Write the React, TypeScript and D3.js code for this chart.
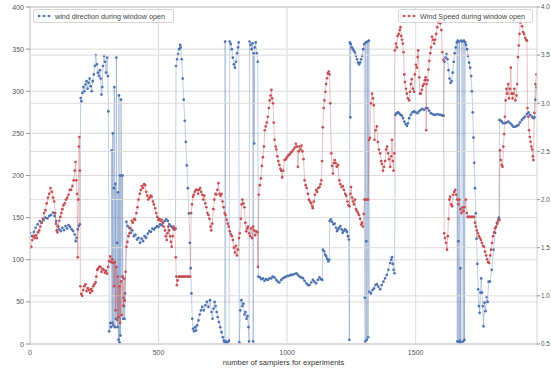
import React from "react";
import * as d3 from "d3";

// ---- data ----
const dirSamples = [
  0, 8, 15, 22, 30, 38, 45, 52, 60, 68, 75, 82, 90, 96, 102, 108, 114, 120, 126, 132, 138, 144, 150, 156, 162, 168, 174, 178, 182, 186, 190, 194,
  197, 200, 204, 208, 212, 216, 220, 224, 228, 232, 236, 240, 244, 248, 252, 256, 260, 264, 268, 272, 275, 278, 281, 284, 288, 292, 296, 300, 303, 305,
  308, 312, 315, 318, 320, 322, 324, 326, 328, 330, 332, 334, 336, 338, 340, 342, 344, 346, 348, 350, 352, 354, 356, 358, 360, 362, 364, 366, 368, 370,
  375, 380, 386, 392, 398, 404, 410, 416, 422, 428, 434, 440, 446, 452, 458, 464, 470, 476, 482, 488, 494, 500, 506, 512, 518, 524, 530, 536, 542, 548, 554, 560, 566,
  568, 572, 576, 580, 584, 586, 590, 594, 598, 602, 606, 610, 614, 618, 622, 625, 628, 631, 634, 638, 642, 646, 650, 655, 660, 665, 670, 676, 682, 688, 694, 700, 706, 710, 714, 718, 722, 726, 730, 735, 740, 745, 750, 754, 757,
  759, 762, 766, 770, 774, 777, 781, 785, 789, 793, 797, 801, 805, 809, 812, 814, 818, 822, 826, 830, 834, 838, 842, 846, 850, 852, 854, 858, 862, 866, 868, 870, 872, 874, 878, 882, 886,
  888, 894, 900, 906, 912, 918, 925, 932, 938, 944, 951, 958, 964, 970, 977, 984, 990, 996, 1002, 1008, 1014, 1020, 1028, 1036, 1042, 1048, 1055, 1062, 1068, 1075, 1081, 1087, 1094, 1100, 1106, 1113, 1120, 1126, 1132, 1137,
  1139, 1144, 1148, 1152, 1156, 1160, 1164, 1166, 1170, 1175, 1180, 1185, 1190, 1194, 1198, 1202, 1207, 1212, 1216, 1220, 1225, 1229, 1233, 1237, 1240,
  1242, 1244, 1246, 1248, 1252, 1256, 1260, 1264, 1268, 1272, 1276, 1280, 1284, 1288, 1292, 1296, 1300, 1302, 1304, 1306, 1308, 1310, 1312, 1315, 1318,
  1320, 1326, 1332, 1338, 1344, 1349, 1355, 1362, 1368, 1375, 1381, 1388, 1394, 1401, 1405, 1408, 1411, 1414, 1418,
  1421, 1426, 1431, 1436, 1441, 1446, 1451, 1456, 1461, 1466, 1470, 1475, 1481, 1487, 1494, 1500, 1507, 1513, 1520, 1526, 1533, 1540, 1546, 1552, 1559, 1566, 1572, 1578, 1585, 1592, 1598, 1604, 1609,
  1612, 1616, 1620, 1624, 1628, 1632, 1636, 1640, 1644, 1648, 1652, 1656, 1660, 1662, 1664, 1666, 1668, 1670, 1672, 1674, 1676, 1678, 1682, 1685, 1688, 1690, 1693, 1696, 1700, 1704, 1708, 1712,
  1716, 1719, 1722, 1725, 1728, 1731, 1734, 1737, 1740, 1743, 1746, 1749, 1752, 1755, 1758, 1761, 1764, 1768, 1772, 1776, 1780, 1784, 1789,
  1796, 1803, 1809, 1816, 1822, 1824,
  1826, 1831, 1835, 1840, 1848, 1854, 1861, 1868, 1874, 1880, 1887, 1894, 1900, 1906, 1913, 1920, 1926, 1933, 1939, 1945, 1952, 1958, 1962, 1966, 1970,
];
const dirValues = [
  132, 128, 133, 138, 142, 146, 144, 147, 150, 149, 152, 153, 156, 152, 146, 140, 136, 134, 138, 135, 140, 137, 141, 139, 136, 134, 130, 122, 126, 136, 140, 142,
  292, 288, 298, 305, 300, 308, 312, 303, 310, 315, 306, 300, 312, 320, 330, 343, 332, 322, 318, 325, 315, 296, 305, 330, 342, 335, 322, 340, 318, 276,
  15, 25, 20, 230, 25, 250, 22, 185, 305, 20, 190, 30, 340, 120, 20, 180, 5, 295, 2, 200, 10, 290, 200, 80, 200, 30, 55, 45, 30, 60,
  145, 140, 138, 132, 135, 128, 130, 124, 126, 120, 125, 122, 128, 126, 131, 134, 133, 137, 136, 138, 140, 139, 142, 141, 144, 146, 148, 146, 142, 140, 138, 136, 137,
  330, 338, 344, 350, 355, 352, 338, 315, 290, 265, 240, 212, 185, 155, 120, 90, 60, 30, 18, 15, 20, 16, 22, 28, 35, 40, 44, 40, 46, 50, 44, 52, 38, 30, 42, 50, 45, 38, 32, 26, 20, 14, 8, 4, 2,
  359, 3, 1, 2, 4, 359, 356, 350, 340, 332, 328, 335, 345, 352, 358, 2, 40, 52, 45, 48, 35, 38, 30, 33, 20, 3, 359, 355, 350, 357, 3, 345, 238, 352, 358, 345, 335,
  80, 79, 77, 78, 75, 77, 76, 78, 78, 80, 79, 76, 74, 73, 76, 78, 79, 80, 81, 81, 82, 82, 83, 84, 82, 80, 79, 78, 75, 72, 70, 70, 73, 76, 74, 72, 76, 79, 77, 76,
  112, 110, 106, 104, 101, 98, 100, 146, 148, 145, 142, 143, 138, 134, 136, 138, 140, 136, 132, 134, 136, 135, 133, 128, 124,
  5, 358, 269, 356, 352, 350, 348, 346, 342, 338, 334, 332, 334, 338, 342, 350, 356, 55, 3, 358, 122, 5, 359, 8, 360,
  62, 60, 64, 66, 70, 71, 68, 65, 70, 74, 78, 82, 88, 96, 100, 103, 95, 88, 84,
  272, 274, 275, 274, 272, 271, 268, 264, 261, 259, 262, 268, 272, 275, 276, 275, 274, 276, 278, 279, 278, 280, 280, 277, 274, 273, 272, 272, 273, 272, 272, 271, 271,
  335, 340, 344, 338, 325, 315, 310, 312, 322, 335, 345, 352, 358, 3, 360, 122, 2, 359, 4, 90, 2, 360, 359, 3, 360, 5, 358, 355, 350, 342, 334, 328,
  318, 300, 275, 245, 215, 185, 155, 125, 95, 65, 45, 37, 61, 78, 61, 45, 21, 49, 39, 56, 50, 74, 74,
  88, 112, 132, 144, 148, 150,
  266, 265, 264, 262, 262, 263, 264, 262, 260, 258, 258, 259, 260, 263, 266, 268, 270, 273, 275, 272, 270, 268, 269, 290, 305,
];

const speedSamples = [
  0, 5, 9, 13, 18, 22, 27, 31, 36, 40, 45, 50, 55, 60, 65, 70, 75, 80, 85, 90, 94, 98, 101, 104, 107, 110, 114, 118, 122, 126, 130, 135, 140, 145, 150, 155, 160, 165, 170, 174, 177, 180, 183, 186, 188, 190, 192, 194,
  196, 199, 203, 207, 211, 216, 220, 225, 229, 234, 238, 242, 246, 250, 255, 258, 261, 265, 269, 274, 278, 282, 287, 291, 295, 300, 304, 308, 312, 316, 320, 324,
  327, 330, 333, 336, 339, 342, 345, 348, 351, 354, 357, 360, 363, 366, 369, 372,
  375, 379, 383, 387, 391, 396, 400, 405, 409, 414, 418, 422, 427, 431, 435, 440, 444, 448, 452, 456, 460, 465, 469, 473, 478, 482, 487, 491, 495, 499, 503, 507, 512, 516, 520, 525, 528, 532, 535, 538, 541, 545, 548, 551, 555, 558, 561, 564,
  567, 569, 571, 574, 578, 583, 588, 593, 598, 603, 608, 613, 618, 623,
  627, 630, 634, 637, 641, 645, 650, 654, 658, 662, 666, 670, 674, 678, 682, 686, 690, 694, 698, 702, 705, 709, 713, 717, 721, 725, 729, 733, 737, 741, 745, 749, 753, 757, 761, 765, 769, 773, 777, 781, 785, 789, 793, 797, 801, 805, 809, 813, 816, 820, 823, 826, 830, 834, 838, 841, 845, 848, 852, 856, 860, 864, 868, 872, 876, 880, 884, 887,
  890, 894, 898, 902, 906, 910, 913, 917, 921, 925, 929, 932, 936, 939, 942, 945, 948, 951, 955, 958, 962, 966, 970, 974, 977, 981, 985, 990, 995, 1000, 1005, 1010, 1015, 1020, 1025, 1030, 1034, 1038, 1042, 1045, 1048, 1052, 1056, 1060, 1064, 1068, 1072, 1076, 1081, 1085, 1089, 1094, 1098, 1100, 1104, 1108, 1113, 1117, 1121, 1126, 1130, 1133, 1136,
  1139, 1142, 1145, 1149, 1152, 1155, 1158, 1162, 1165, 1168, 1172, 1175, 1178, 1182, 1185, 1189, 1193, 1198, 1203, 1207, 1212, 1217, 1221, 1226, 1230, 1235, 1239, 1243, 1246, 1249, 1253, 1256, 1260, 1264, 1268, 1272, 1276, 1280, 1284, 1288, 1292, 1295, 1298, 1301, 1305, 1310, 1315,
  1319, 1322, 1326, 1330, 1334, 1337, 1340, 1344, 1349, 1353, 1357, 1362, 1366, 1369, 1373, 1377, 1381, 1385, 1389, 1393, 1397, 1401, 1405, 1408, 1411, 1414, 1417,
  1419, 1423, 1427, 1430, 1434, 1438, 1441, 1444, 1447, 1450, 1453, 1456, 1458, 1462, 1466, 1470, 1475, 1478, 1481, 1485, 1489, 1494, 1497, 1501, 1505, 1508, 1510, 1514, 1517, 1520, 1524, 1528, 1532, 1536, 1539, 1541, 1543, 1546, 1550, 1553, 1557, 1560, 1564, 1568, 1572, 1576, 1580, 1584, 1588, 1592, 1596, 1600, 1604, 1608,
  1611, 1614, 1618, 1622, 1625, 1628, 1631, 1634, 1638, 1642, 1646, 1650, 1654, 1658, 1662, 1666, 1670, 1674, 1678, 1682, 1686, 1690, 1695, 1699, 1702, 1707, 1712, 1717, 1722, 1727, 1731, 1734, 1738, 1742, 1746, 1750, 1754, 1758, 1762, 1766, 1770, 1774, 1778, 1782, 1786, 1790, 1793, 1797, 1801, 1805, 1809, 1813, 1818, 1822, 1826,
  1828, 1831, 1835, 1838, 1841, 1844, 1847, 1850, 1853, 1856, 1860, 1863, 1867, 1870, 1873, 1877, 1880, 1884, 1888, 1892, 1895, 1898, 1901, 1904, 1907, 1910, 1914, 1918, 1922, 1926, 1930, 1933, 1935, 1938, 1941, 1944, 1947, 1950, 1953, 1956, 1958, 1962, 1966, 1970,
];
const speedValues = [
  1.50, 1.51, 1.58, 1.62, 1.60, 1.63, 1.60, 1.66, 1.68, 1.72, 1.76, 1.80, 1.86, 1.89, 1.96, 2.02, 2.06, 2.12, 2.08, 2.02, 1.98, 1.86, 1.75, 1.68, 1.66, 1.72, 1.78, 1.82, 1.86, 1.90, 1.94, 1.96, 2.00, 2.02, 2.05, 2.10, 2.10, 2.14, 2.20, 2.30, 2.39, 2.20, 2.06, 1.40, 2.00, 2.55, 2.65, 2.30,
  1.10, 1.02, 1.00, 1.06, 1.10, 1.12, 1.05, 1.08, 1.06, 1.03, 1.07, 1.05, 1.10, 1.12, 1.14, 1.20, 1.27, 1.28, 1.30, 1.30, 1.25, 1.28, 1.27, 1.24, 1.26, 1.23, 1.30, 1.36, 1.41, 1.35, 1.38, 1.34,
  1.10, 1.35, 0.85, 1.30, 0.75, 1.20, 0.78, 1.10, 0.72, 1.15, 0.80, 1.20, 0.90, 1.18, 0.95, 1.25,
  1.51, 1.56, 1.62, 1.65, 1.70, 1.78, 1.76, 1.80, 1.79, 1.86, 1.92, 2.00, 2.06, 2.10, 2.14, 2.12, 2.16, 2.15, 2.08, 2.04, 2.00, 2.02, 2.04, 2.03, 1.98, 1.95, 1.91, 1.86, 1.82, 1.79, 1.80, 1.78, 1.79, 1.76, 1.72, 1.68, 1.62, 1.58, 1.65, 1.72, 1.68, 1.62, 1.56, 1.51, 1.62, 1.72, 1.70, 1.69,
  1.40, 1.20, 1.11, 1.16, 1.20, 1.20, 1.20, 1.20, 1.20, 1.20, 1.20, 1.20, 1.20, 1.20,
  1.86, 1.95, 2.03, 2.05, 2.08, 2.10, 2.10, 2.06, 2.10, 2.12, 2.08, 2.05, 2.00, 2.04, 1.96, 1.92, 1.86, 1.84, 1.80, 1.72, 1.68, 1.75, 1.90, 2.00, 2.06, 2.05, 2.10, 2.17, 2.06, 2.04, 2.06, 1.98, 1.92, 1.86, 1.84, 1.79, 1.75, 1.72, 1.67, 1.64, 1.62, 1.58, 1.50, 1.45, 1.52, 1.42, 1.48, 1.60, 1.65, 1.80, 1.95, 2.00, 1.96, 1.92, 1.76, 1.67, 1.70, 1.72, 1.65, 1.62, 1.70, 1.60, 1.72, 1.68, 1.63, 1.67, 1.66, 1.30,
  2.05, 2.15, 2.22, 2.35, 2.44, 2.55, 2.72, 2.76, 2.80, 2.86, 2.95, 3.03, 3.08, 3.14, 3.05, 3.00, 2.80, 2.62, 2.55, 2.52, 2.45, 2.40, 2.36, 2.32, 2.30, 2.23, 2.30, 2.41, 2.42, 2.44, 2.46, 2.47, 2.49, 2.50, 2.52, 2.54, 2.58, 2.55, 2.34, 2.50, 2.55, 2.52, 2.56, 2.50, 2.42, 2.20, 2.15, 2.12, 2.06, 2.00, 1.98, 1.96, 1.93, 1.91, 1.98, 2.05, 2.10, 2.08, 2.12, 2.13, 2.16, 2.20, 2.40,
  2.75, 2.95, 3.03, 3.12, 3.20, 3.26, 3.31, 3.33, 3.30, 3.00, 2.48, 2.35, 2.27, 2.38, 2.41, 2.38, 2.34, 2.36, 2.20, 2.16, 2.13, 2.14, 2.10, 2.06, 2.04, 1.98, 1.94, 1.93, 2.06, 2.13, 2.02, 1.98, 1.95, 2.00, 1.90, 1.88, 1.86, 1.84, 1.80, 1.74, 1.76, 1.72, 1.85, 2.00, 2.00, 2.00, 2.00,
  2.62, 2.64, 3.00, 3.10, 3.05, 2.98, 2.62, 2.72, 2.76, 2.60, 2.52, 2.48, 2.40, 2.37, 2.30, 2.34, 2.40, 2.52, 2.55, 2.48, 2.42, 2.34, 2.45, 2.62, 2.40, 2.30, 2.48,
  3.55, 3.62, 3.58, 3.70, 3.72, 3.76, 3.79, 3.70, 3.66, 3.62, 3.53, 3.30, 3.22, 3.15, 3.10, 3.05, 3.03, 3.12, 3.20, 3.25, 3.15, 3.12, 3.30, 3.40, 3.37, 3.48, 3.55, 3.27, 3.10, 3.10, 3.14, 3.18, 3.20, 3.24, 3.27, 2.72, 3.20, 3.24, 3.35, 3.44, 3.52, 3.58, 3.69, 3.66, 3.62, 3.66, 3.72, 3.79, 3.84, 3.86, 3.83, 3.76, 3.53, 3.45,
  1.65, 1.60, 1.55, 1.48, 1.62, 1.80, 2.00, 2.03, 1.95, 1.93, 2.05, 2.08, 2.10, 2.05, 2.00, 1.95, 2.00, 1.90, 1.86, 1.92, 1.88, 1.92, 2.00, 1.86, 1.82, 1.82, 1.82, 1.82, 1.82, 1.82, 1.76, 1.72, 1.68, 1.65, 1.62, 1.60, 1.58, 1.55, 1.52, 1.51, 1.46, 1.42, 1.38, 1.35, 1.34, 1.42, 1.48, 1.55, 1.62, 1.66, 1.70, 1.72, 1.75, 1.78, 1.79,
  2.51, 2.41, 2.36, 2.34, 2.55, 2.68, 2.86, 3.03, 3.15, 3.10, 3.20, 3.05, 3.15, 3.37, 3.10, 3.05, 3.10, 3.15, 3.03, 3.08, 3.20, 3.48, 3.60, 3.72, 3.84, 3.86, 3.80, 3.74, 3.72, 3.68, 3.66, 3.65, 2.95, 2.86, 2.72, 2.65, 2.60, 2.55, 2.52, 2.45, 2.41, 2.90, 3.20, 3.30,
];

const xTicks = [0, 500, 1000, 1500];
const dirTicks = [0, 50, 100, 150, 200, 250, 300, 350, 400];
const speedTicks = [0.5, 1.0, 1.5, 2.0, 2.5, 3.0, 3.5, 4.0];
const dirLabel = "wind direction during window open";
const speedLabel = "Wind Speed during window open";
const xLabel = "number of samplers for experiments";

const W = 551;
const H = 371;
const left = 30, right = 537, top = 7, bottom = 344;
const BLUE = "#4c72b0";
const RED = "#c44e52";
const GRID = "#dcdcdc";
const FONT = "'Liberation Sans', Arial, sans-serif";

export default function App() {
  const x = d3.scaleLinear().domain([0, 1972]).range([left, right]);
  const yL = d3.scaleLinear().domain([0, 400]).range([bottom, top]);
  const yR = d3.scaleLinear().domain([0.5, 4.0]).range([bottom, top]);

  const dirPts: [number, number][] = dirSamples.map((s, i) => [s, dirValues[i]]);
  const spdPts: [number, number][] = speedSamples.map((s, i) => [s, speedValues[i]]);
  const lineL = d3.line<[number, number]>().x((d) => x(d[0])).y((d) => yL(d[1]));
  const lineR = d3.line<[number, number]>().x((d) => x(d[0])).y((d) => yR(d[1]));

  return (
    <svg width={W} height={H} style={{ position: "absolute", left: 0, top: 0, background: "#fff" }} fontFamily={FONT}>
      <defs>
        <clipPath id="plot">
          <rect x={left} y={top - 2} width={right - left} height={bottom - top + 4} />
        </clipPath>
      </defs>
      {/* left-axis grid */}
      {dirTicks.map((t) => (
        <line key={"gl" + t} x1={left} x2={right} y1={yL(t)} y2={yL(t)} stroke={GRID} strokeWidth={1} />
      ))}
      {xTicks.map((t) => (
        <line key={"gx" + t} x1={x(t)} x2={x(t)} y1={top} y2={bottom} stroke={GRID} strokeWidth={1} />
      ))}
      <g clipPath="url(#plot)">
        <path d={lineL(dirPts) || ""} fill="none" stroke={BLUE} strokeOpacity={0.35} strokeWidth={1} />
        {dirPts.map((d, i) => (
          <circle key={"b" + i} cx={x(d[0])} cy={yL(d[1])} r={1.35} fill={BLUE} />
        ))}
      </g>
      {/* legend left */}
      <g>
        <rect x={33.5} y={9.5} width={140} height={13} fill="#fff" fillOpacity={0.85} stroke="#cccccc" strokeWidth={0.8} rx={1.5} />
        <line x1={37} x2={51} y1={16} y2={16} stroke={BLUE} strokeOpacity={0.4} strokeWidth={1} />
        <circle cx={39} cy={16} r={1.2} fill={BLUE} />
        <circle cx={44} cy={16} r={1.2} fill={BLUE} />
        <circle cx={49} cy={16} r={1.2} fill={BLUE} />
        <text x={55} y={18.5} fontSize={7.2} fill="#444">{dirLabel}</text>
      </g>
      {/* right-axis grid */}
      {speedTicks.map((t) => (
        <line key={"gr" + t} x1={left} x2={right} y1={yR(t)} y2={yR(t)} stroke={GRID} strokeWidth={1} />
      ))}
      <g clipPath="url(#plot)">
        <path d={lineR(spdPts) || ""} fill="none" stroke={RED} strokeOpacity={0.35} strokeWidth={1} />
        {spdPts.map((d, i) => (
          <circle key={"r" + i} cx={x(d[0])} cy={yR(d[1])} r={1.35} fill={RED} />
        ))}
      </g>
      {/* frame */}
      <rect x={left} y={top} width={right - left} height={bottom - top} fill="none" stroke="#d0d0d0" strokeWidth={1} />
      {/* legend right */}
      <g>
        <rect x={398.5} y={9.5} width={134} height={13} fill="#fff" fillOpacity={0.85} stroke="#cccccc" strokeWidth={0.8} rx={1.5} />
        <line x1={402} x2={416} y1={16} y2={16} stroke={RED} strokeOpacity={0.4} strokeWidth={1} />
        <circle cx={404} cy={16} r={1.2} fill={RED} />
        <circle cx={409} cy={16} r={1.2} fill={RED} />
        <circle cx={414} cy={16} r={1.2} fill={RED} />
        <text x={420} y={18.5} fontSize={7.2} fill="#444">{speedLabel}</text>
      </g>
      {/* left axis */}
      {dirTicks.map((t) => (
        <g key={"tl" + t}>
          <line x1={left - 4} x2={left} y1={yL(t)} y2={yL(t)} stroke="#777" strokeWidth={0.8} />
          <text x={left - 6} y={yL(t) + 2.5} fontSize={7} textAnchor="end" fill="#555">{t}</text>
        </g>
      ))}
      {/* right axis */}
      {speedTicks.map((t) => (
        <g key={"tr" + t}>
          <line x1={right} x2={right + 3} y1={yR(t)} y2={yR(t)} stroke="#777" strokeWidth={0.8} />
          <text x={right + 4} y={yR(t) + 2.3} fontSize={6.3} textAnchor="start" fill="#555">{t.toFixed(1)}</text>
        </g>
      ))}
      {/* bottom axis */}
      {xTicks.map((t) => (
        <text key={"tx" + t} x={x(t)} y={bottom + 11} fontSize={7} textAnchor="middle" fill="#555">{t}</text>
      ))}
      <text x={(left + right) / 2} y={bottom + 21} fontSize={7.6} textAnchor="middle" fill="#333">{xLabel}</text>
    </svg>
  );
}
